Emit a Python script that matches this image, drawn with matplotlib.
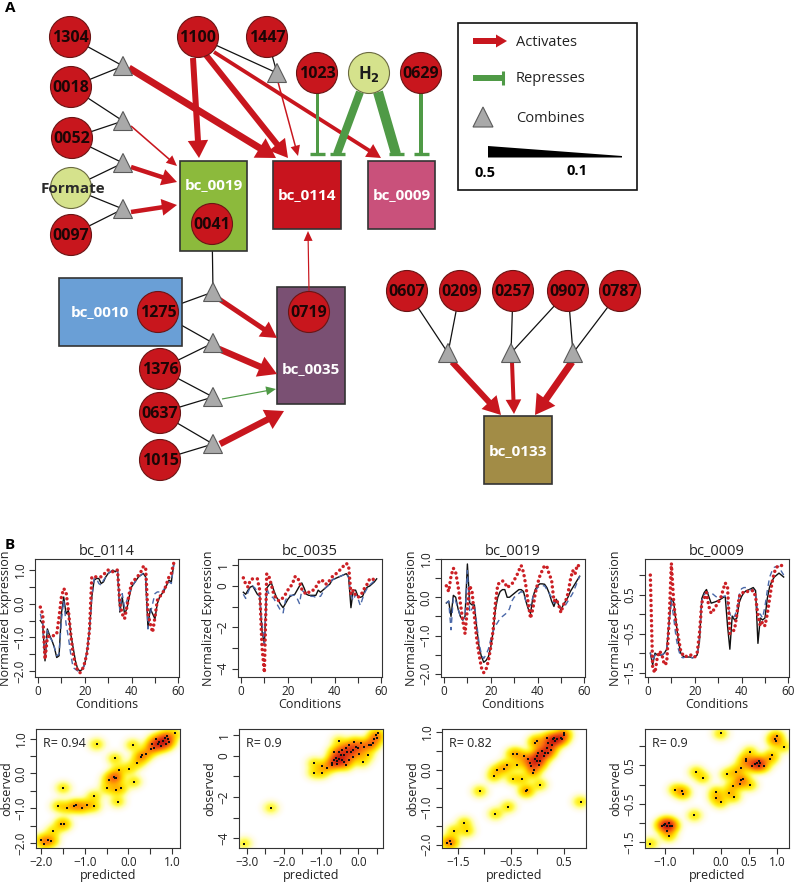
import numpy as np
import matplotlib
matplotlib.use('Agg')
import matplotlib.pyplot as plt
from matplotlib.patches import Circle, Rectangle, Polygon, FancyArrow
from matplotlib.colors import LinearSegmentedColormap

plt.rcParams['font.family'] = ['Open Sans', 'DejaVu Sans']
plt.rcParams['mathtext.fontset'] = 'dejavusans'

# ---------------- data : panel B line plots ----------------
conditions = np.arange(1, 59)
genes = ['bc_0114', 'bc_0035', 'bc_0019', 'bc_0009']

obs_0114 = [-0.5, -0.6, -1.7, -0.75, -0.95, -1.1, -1.3, -1.6, -1.55, -0.3,
            0.2, -0.3, -0.2, -0.9, -1.3, -1.7, -1.95, -2.0, -1.95, -1.8,
            -1.4, -0.8, 0.2, 0.7, 0.75, 0.75, 0.6, 0.65, 0.8, 0.9,
            0.95, 1.0, 0.95, 1.0, -0.25, 0.2, -0.3, -0.15, 0.2, 0.5,
            0.6, 0.7, 0.8, 0.85, 0.9, 0.8, -0.7, -0.15, -0.3, -0.45,
            0.0, 0.2, 0.3, 0.4, 0.55, 0.7, 0.65, 1.15]
fit_0114 = [-0.3, -0.6, -1.6, -0.8, -1.0, -1.1, -1.3, -1.55, -1.5, -0.5,
            0.1, -0.6, -1.0, -1.5, -1.9, -1.95, -2.0, -2.0, -1.95, -1.8,
            -1.4, -0.8, 0.2, 0.75, 0.75, 0.6, 0.55, 0.7, 0.8, 0.9,
            0.95, 1.0, 0.95, 1.0, -0.2, 0.3, -0.1, 0.1, 0.3, 0.5,
            0.6, 0.7, 0.8, 0.85, 0.9, 0.8, -0.75, -0.3, 0.0, 0.3,
            0.35, 0.35, 0.35, 0.45, 0.55, 0.65, 0.6, 1.15]
pred_0114 = [-0.1, -0.3, -1.65, -1.0, -0.95, -0.95, -0.95, -0.9, -0.4, 0.2,
             0.45, 0.35, -0.2, -0.9, -1.5, -1.8, -2.0, -2.05, -1.95, -1.75,
             -1.45, -0.8, 0.8, 0.8, 0.8, 0.8, 0.8, 0.85, 0.95, 1.0,
             1.0, 0.95, 1.0, 1.0, 0.0, -0.3, -0.45, -0.1, 0.3, 0.6,
             0.7, 0.75, 0.85, 0.95, 1.1, 1.1, -0.3, -0.6, -0.85, -0.4,
             0.1, 0.2, 0.3, 0.4, 0.6, 0.8, 0.9, 1.2]

obs_0035 = [-0.3, -0.4, -0.2, -0.05, 0.0, -0.2, -0.4, -0.5, -2.2, -2.8,
            -0.1, 0.05, 0.15, -0.2, -0.5, -0.7, -0.9, -1.05, -0.85, -0.65,
            -0.5, -0.45, -0.4, -0.2, 0.0, 0.15, -0.1, -0.4, -0.45, -0.45,
            -0.45, -0.45, -0.2, -0.3, -0.2, -0.1, 0.0, 0.1, 0.3, 0.35,
            0.4, 0.45, 0.5, 0.55, 0.6, 0.45, -1.05, -0.2, -0.2, -0.5,
            -0.55, -0.5, -0.2, -0.05, 0.0, 0.1, 0.2, 0.35]
fit_0035 = [-0.4, -0.6, -0.3, -0.05, 0.0, -0.1, -0.3, -0.5, -1.8, -2.8,
            -0.1, -0.4, -0.5, -0.6, -0.8, -1.0, -1.2, -1.3, -0.7, -0.5,
            -0.45, -0.45, -0.45, -0.6, -0.85, -0.2, -0.3, -0.4, -0.45, -0.5,
            -0.5, -0.55, -0.5, -0.5, -0.3, -0.1, 0.0, 0.1, 0.3, 0.35,
            0.4, 0.45, 0.5, 0.55, 0.6, 0.4, -0.4, -0.7, -0.4, -0.6,
            -0.95, -0.6, -0.3, -0.1, 0.05, 0.15, 0.25, 0.35]
pred_0035 = [0.4, 0.1, -0.05, 0.3, 0.35, 0.35, 0.35, -0.2, -3.0, -4.2,
             0.6, 0.45, 0.05, -0.4, -0.6, -0.7, -0.7, -0.55, -0.4, -0.2,
             -0.05, 0.1, 0.45, 0.45, 0.2, -0.15, -0.3, -0.4, -0.3, -0.2,
             -0.2, -0.05, 0.15, 0.3, 0.25, 0.1, 0.1, 0.3, 0.45, 0.5,
             0.65, 0.75, 0.85, 1.0, 1.1, 1.0, -0.4, -0.2, -0.45, -0.55,
             -0.45, -0.3, -0.05, 0.1, 0.35, 0.3, 0.35, 0.45]

obs_0019 = [-0.15, -0.1, -0.5, 0.05, 0.0, -0.3, -0.5, -0.6, -0.5, 0.87,
            -0.15, -0.2, -0.2, -0.8, -1.3, -1.55, -1.7, -1.65, -1.55, -1.3,
            -0.9, -0.3, 0.0, 0.15, 0.2, 0.2, 0.0, 0.0, 0.05, 0.1,
            0.15, 0.2, 0.2, 0.15, -0.1, -0.3, -0.42, 0.0, 0.2, 0.3,
            0.35, 0.35, 0.34, 0.25, 0.1, -0.1, -0.24, -0.05, -0.2, -0.33,
            -0.2, -0.1, 0.0, 0.15, 0.25, 0.35, 0.45, 0.55]
fit_0019 = [-0.15, -0.1, -0.85, 0.0, -0.1, -0.3, -0.5, -0.6, -0.5, 0.7,
            -0.4, -0.3, -0.2, -0.7, -1.2, -1.5, -1.6, -1.5, -1.35, -1.1,
            -0.9, -0.75, -0.65, -0.55, -0.5, -0.45, -0.4, -0.3, -0.1, 0.0,
            0.05, 0.1, 0.15, 0.1, -0.1, -0.25, -0.2, 0.0, 0.15, 0.25,
            0.3, 0.3, 0.3, 0.2, 0.1, 0.0, -0.15, -0.1, -0.2, -0.3,
            -0.25, -0.2, -0.1, 0.0, 0.1, 0.25, 0.4, 0.55]
pred_0019 = [0.3, 0.15, 0.55, 0.76, 0.65, 0.3, -0.15, -0.6, -0.95, -0.3,
             0.3, 0.15, -0.5, -1.1, -1.5, -1.84, -1.97, -1.88, -1.66, -1.3,
             -0.86, -0.15, 0.34, 0.38, 0.43, 0.38, 0.25, 0.3, 0.34, 0.45,
             0.55, 0.7, 0.83, 0.65, 0.3, -0.15, -0.55, -0.3, 0.1, 0.35,
             0.56, 0.7, 0.83, 0.8, 0.6, 0.45, -0.1, -0.05, -0.2, -0.4,
             -0.2, -0.1, 0.1, 0.45, 0.7, 0.6, 0.85, 0.8]

obs_0009 = [-1.0, -1.3, -1.0, -1.05, -1.05, -1.05, -1.0, -0.9, -0.2, 0.4,
            0.3, -0.2, -0.7, -1.0, -1.08, -1.1, -1.1, -1.1, -1.12, -1.1,
            -1.05, -0.7, 0.4, 0.55, 0.63, 0.45, 0.28, 0.3, 0.32, 0.35,
            0.38, 0.42, 0.46, -0.3, -0.9, -0.05, -0.15, -0.1, 0.3, 0.45,
            0.55, 0.6, 0.62, 0.65, 0.68, 0.6, -0.75, -0.1, -0.15, -0.1,
            0.4, 0.7, 0.85, 0.95, 1.0, 1.05, 1.0, 0.95]
fit_0009 = [-1.0, -1.2, -1.05, -1.05, -1.05, -1.05, -1.0, -0.9, -0.2, 0.35,
            -0.1, -0.6, -0.9, -1.1, -1.12, -1.1, -1.1, -1.1, -1.12, -1.1,
            -1.05, -0.6, 0.35, 0.5, 0.55, 0.55, 0.55, 0.5, 0.45, 0.42,
            0.42, 0.45, 0.46, 0.3, 0.0, -0.1, -0.05, 0.1, 0.5, 0.65,
            0.68, 0.68, 0.65, 0.62, 0.62, 0.5, 0.0, 0.0, -0.1, 0.2,
            0.6, 0.95, 1.1, 1.2, 1.22, 1.22, 1.1, 1.0]
pred_0009 = [1.0, -1.4, -1.5, -1.1, -0.95, -1.05, -1.3, -1.25, -0.2, 1.3,
             0.3, -0.25, -0.6, -0.95, -1.05, -1.1, -1.05, -1.05, -1.05, -1.1,
             -1.0, -0.5, 0.3, 0.4, 0.55, 0.2, 0.02, 0.1, 0.2, 0.3,
             0.4, 0.6, 0.8, 0.7, -0.5, -0.45, -0.4, 0.0, 0.45, 0.55,
             0.55, 0.55, 0.6, 0.6, 0.6, 0.45, -0.05, -0.3, -0.2, -0.3,
             0.0, 0.4, 0.8, 1.07, 1.2, 1.25, 1.25, 1.2]

# ---------------- data : panel B scatter plots ----------------
sc_pred_0114 = [1.06, 0.63, 0.67, 0.71, 0.75, 0.79, 0.83, 0.85, 0.88, 0.90, 0.92, 0.59, 0.55, 0.51,
                -0.73, 0.10, 0.41, 0.31, 0.28, 0.20, 0.02, -0.31, -0.22, -0.34, -0.30, -0.28, -0.45, 0.13,
                -0.49, -0.29, -0.17, -0.25, -1.50, -1.61, -1.42, -1.24, -1.20, -1.06, -0.96, -0.79, -0.79,
                -1.54, -1.48, -1.73, -2.00, -1.93, -1.85, -1.77]
sc_obs_0114 = [1.15, 0.98, 0.84, 0.89, 0.79, 0.93, 1.03, 0.84, 1.08, 0.98, 0.89, 0.74, 0.84, 0.70,
               0.84, 0.82, 0.56, 0.52, 0.46, 0.30, 0.14, 0.43, 0.10, -0.09, -0.12, -0.14, -0.18, -0.24,
               -0.42, -0.47, -0.42, -0.81, -0.42, -0.94, -0.99, -0.95, -0.92, -0.99, -0.90, -0.66, -0.95,
               -1.46, -1.47, -1.67, -1.92, -2.02, -1.92, -1.95]

sc_pred_0035 = [-3.06, -2.35, -1.19, -1.19, -0.97, -0.98, -0.83,
                -0.70, -0.65, -0.60, -0.56, -0.52, -0.47, -0.43, -0.38, -0.33, -0.29,
                -0.25, -0.20, -0.15, -0.11, -0.06, -0.02, 0.03, 0.07, 0.12, 0.16,
                0.25, 0.30, 0.34, 0.39, 0.48, 0.52, 0.50, 0.43, -0.56, -0.52,
                -0.43, -0.38, -0.33, -0.70, -0.65, -0.52, -0.25, -0.15]
sc_obs_0035 = [-4.26, -2.53, -0.34, -0.83, -0.83, -0.50, -0.57,
               -0.45, -0.20, -0.10, -0.38, 0.72, 0.03, 0.28, -0.29, 0.36, 0.20,
               0.52, 0.20, -0.05, 0.68, 0.44, 0.36, 0.11, 0.60, -0.29, 0.44,
               0.03, 0.52, 0.52, 0.60, 1.00, 1.09, 0.85, 0.82, -0.26, -0.16,
               -0.21, 0.03, -0.46, -0.33, 0.20, 0.20, -0.21, 0.28]

sc_pred_0019 = [-1.70, -1.63, -1.65, -1.58, -1.38, -1.33, -1.09, -0.79, -0.55, -0.82,
                -0.77, -0.63, -0.58, -0.46, -0.46, -0.39, -0.38, -0.29, -0.21, -0.20,
                -0.25, -0.17, -0.14, -0.11, -0.07, -0.08, -0.04, -0.01, 0.00, 0.02,
                0.04, 0.05, 0.09, 0.12, 0.15, 0.18, 0.21, 0.25, 0.28, 0.30,
                0.32, 0.34, 0.37, 0.44, 0.47, 0.50, 0.18, 0.21, 0.05, -0.04,
                -0.01, 0.51, 0.82]
sc_obs_0019 = [-1.96, -1.97, -1.90, -1.64, -1.42, -1.64, -0.58, -1.18, -0.99, -0.18,
               -0.02, 0.02, 0.12, -0.24, 0.42, 0.42, 0.13, -0.25, -0.58, -0.55,
               0.35, 0.27, 0.18, 0.09, 0.00, -0.09, 0.27, 0.22, 0.35, 0.44,
               0.13, 0.22, 0.49, 0.35, 0.44, 0.58, 0.44, 0.53, 0.66, 0.80,
               0.84, 0.75, 0.81, 0.84, 0.80, 0.93, 0.84, 0.71, -0.40, 0.71,
               0.77, 0.96, -0.86]

sc_pred_0009 = [-1.27, -1.06, -1.03, -1.00, -0.97, -0.94, -0.91, -0.88, -0.97, -0.94,
                -0.82, -0.70, -0.68, -0.48, -0.45, -0.33, -0.09, -0.09, -0.01, -0.01,
                0.11, 0.14, 0.21, 0.23, 0.26, 0.33, 0.36, 0.39, 0.35, 0.44,
                0.45, 0.52, 0.52, 0.55, 0.61, 0.64, 0.67, 0.70, 0.68, 0.76,
                0.88, 0.91, 0.96, 1.00, 0.98, 1.12]
sc_obs_0009 = [-1.53, -1.08, -1.04, -1.01, -1.07, -1.00, -1.08, -1.07, -1.20, -1.34,
               -0.13, -0.17, -0.23, -0.80, 0.33, 0.18, -0.19, -0.34, 1.33, -0.46,
               0.27, -0.21, -0.04, -0.32, 0.33, 0.02, 0.12, 0.15, 0.44, 0.66,
               0.61, 0.85, -0.01, 0.48, 0.53, 0.57, 0.48, 0.57, 0.61, 0.48,
               0.67, 0.77, 1.18, 1.27, 1.13, 0.99]

r_values = ['0.94', '0.9', '0.82', '0.9']

# tick specs (ticks, labelled ticks)
line_yticks = [(np.arange(-2.0, 1.01, 0.5), [-2.0, -1.0, 0.0, 1.0], '%.1f'),
               (np.arange(-4, 1.01, 1), [-4, -2, 0, 1], '%d'),
               (np.arange(-2.0, 1.01, 0.5), [-2.0, -1.0, 0.0, 1.0], '%.1f'),
               (np.arange(-1.5, 1.01, 0.5), [-1.5, -0.5, 0.5], '%.1f')]
sc_xticks = [(np.arange(-2.0, 1.01, 0.5), [-2.0, -1.0, 0.0, 1.0], '%.1f'),
             (np.arange(-3.0, 0.51, 0.5), [-3.0, -2.0, -1.0, 0.0], '%.1f'),
             (np.arange(-1.5, 0.51, 0.5), [-1.5, -0.5, 0.5], '%.1f'),
             (np.arange(-1.0, 1.01, 0.5), [-1.0, 0.0, 0.5, 1.0], '%.1f')]
sc_yticks = [(np.arange(-2.0, 1.01, 0.5), [-2.0, -1.0, 0.0, 1.0], '%.1f'),
             (np.arange(-4, 1.01, 1), [-4, -2, 0, 1], '%d'),
             (np.arange(-2.0, 1.01, 0.5), [-2.0, -1.0, 0.0, 1.0], '%.1f'),
             (np.arange(-1.5, 1.01, 0.5), [-1.5, -0.5, 0.5], '%.1f')]

# ---------------- figure ----------------
W, H = 795, 885
fig = plt.figure(figsize=(W / 100, H / 100), dpi=100)

RED = '#c8161e'
GREEN = '#4f9a46'
NODE = '#c8161d'
LIGHT = '#d5e28c'

axN = fig.add_axes([0, 1 - 545 / H, 1, 545 / H])
axN.set_xlim(0, 795)
axN.set_ylim(545, 0)
axN.axis('off')


def node(x, y, label, face=NODE, r=20.5, fs=11.5, color='#1c0606'):
    axN.add_patch(Circle((x, y), r, fc=face, ec='#6a1515', lw=0.8, zorder=5))
    axN.text(x, y + 1, label, ha='center', va='center', fontsize=fs,
             fontweight='bold', color=color, zorder=6)


def tri(x, y, w=19, h=19):
    axN.add_patch(Polygon([(x, y - h / 2), (x - w / 2, y + h / 2), (x + w / 2, y + h / 2)],
                          closed=True, fc='#a9a9a9', ec='#5a5a5a', lw=0.8, zorder=5))


def box(x0, y0, x1, y1, face, label, lx=None, ly=None):
    axN.add_patch(Rectangle((x0, y0), x1 - x0, y1 - y0, fc=face, ec='#333333', lw=1.2, zorder=2))
    if lx is None:
        lx = (x0 + x1) / 2
    if ly is None:
        ly = (y0 + y1) / 2
    axN.text(lx, ly, label, ha='center', va='center', fontsize=11,
             fontweight='bold', color='white', zorder=6)


def link(a, b):
    axN.plot([a[0], b[0]], [a[1], b[1]], color='#111111', lw=0.9, zorder=1)


def arrow(p0, p1, w, color=RED):
    x0, y0 = p0
    dx, dy = p1[0] - x0, p1[1] - y0
    hw = 2.4 * w + 6
    hl = 1.6 * w + 8
    axN.add_patch(FancyArrow(x0, y0, dx, dy, width=w, head_width=hw, head_length=hl,
                             length_includes_head=True, fc=color, ec='none', zorder=3))


def repress(p0, p1, w, bar=15):
    axN.plot([p0[0], p1[0]], [p0[1], p1[1]], color=GREEN, lw=w * 0.72,
             solid_capstyle='butt', zorder=3)
    axN.plot([p1[0] - bar / 2, p1[0] + bar / 2], [p1[1], p1[1]], color=GREEN,
             lw=2.4, solid_capstyle='butt', zorder=3)


# node coordinates
P = {
    '1304': (70, 37), '0018': (71, 87), '0052': (72, 138), 'Formate': (71, 188),
    '0097': (71, 235), '1100': (198, 37), '1447': (267, 37), '1023': (317, 73),
    'H2': (369, 73), '0629': (421, 73), '0041': (212, 224), '1275': (158, 312),
    '0719': (309, 312), '1376': (160, 369), '0637': (160, 413), '1015': (160, 460),
    '0607': (407, 291), '0209': (460, 291), '0257': (513, 291), '0907': (568, 291),
    '0787': (620, 291),
}
T = {
    't1': (123, 66), 't2': (123, 121), 't3': (123, 163), 't4': (123, 209), 't5': (277, 73),
    't6': (213, 292), 't7': (213, 343), 't8': (213, 397), 't9': (213, 444),
    'tA': (448, 353), 'tB': (511, 353), 'tC': (573, 353),
}

# boxes
box(180, 161, 247, 251, '#8cba3c', 'bc_0019', ly=185)
box(273, 161, 341, 229, '#c8141e', 'bc_0114')
box(368, 161, 435, 229, '#c9517b', 'bc_0009')
box(59, 278, 182, 346, '#6a9fd6', 'bc_0010', lx=100)
box(277, 287, 345, 404, '#7a5073', 'bc_0035', ly=369)
box(484, 416, 552, 484, '#a28c46', 'bc_0133', ly=451)

# connector links
for a, t in [('1304', 't1'), ('0018', 't1'), ('0018', 't2'), ('0052', 't2'),
             ('0052', 't3'), ('Formate', 't3'), ('Formate', 't4'), ('0097', 't4'),
             ('1100', 't5'), ('1447', 't5'), ('0041', 't6'), ('1275', 't6'),
             ('1275', 't7'), ('1376', 't7'), ('1376', 't8'), ('0637', 't8'),
             ('0637', 't9'), ('1015', 't9'), ('0607', 'tA'), ('0209', 'tA'),
             ('0257', 'tB'), ('0907', 'tB'), ('0907', 'tC'), ('0787', 'tC')]:
    link(P[a], T[t])

# activation arrows
arrow((129, 68), (276, 158), 7)
arrow((131, 126), (177, 166), 1.6)
arrow((131, 167), (177, 182), 4.5)
arrow((131, 212), (177, 205), 4.5)
arrow((193, 58), (199, 158), 6)
arrow((206, 55), (288, 158), 6)
arrow((214, 52), (381, 158), 3.8)
arrow((278, 82), (298, 156), 1.5)
arrow((309, 291), (308, 231), 1.2)
arrow((219, 299), (277, 338), 5)
arrow((219, 349), (277, 374), 6.5)
arrow((222, 399), (276, 389), 1.2, color=GREEN)
arrow((220, 444), (284, 411), 6.5)
arrow((452, 362), (501, 415), 6)
arrow((512, 362), (514, 414), 4)
arrow((572, 362), (535, 415), 7)

# repression edges
repress((317, 93), (317, 154), 3)
repress((360, 92), (337, 154), 8)
repress((378, 92), (396, 154), 10)
repress((421, 93), (421, 154), 4)

# triangles
for t in T.values():
    tri(*t)

# nodes
for k, (x, y) in P.items():
    if k == 'Formate':
        axN.add_patch(Circle((x, y), 20.5, fc=LIGHT, ec='#6a6a40', lw=0.8, zorder=5))
        axN.text(x + 2, y + 1, 'Formate', ha='center', va='center', fontsize=11,
                 fontweight='bold', color='#2a2a2a', zorder=6)
    elif k == 'H2':
        axN.add_patch(Circle((x, y), 20.5, fc=LIGHT, ec='#6a6a40', lw=0.8, zorder=5))
        axN.text(x, y + 1, r'H$_\mathbf{2}$', ha='center', va='center', fontsize=12,
                 fontweight='bold', color='#1c1c1c', zorder=6)
    else:
        node(x, y, k)

# legend
axN.add_patch(Rectangle((458, 23), 179, 167, fc='white', ec='#111111', lw=1.2, zorder=2))
axN.add_patch(FancyArrow(473, 41, 34, 0, width=6, head_width=13, head_length=11,
                         length_includes_head=True, fc=RED, ec='none', zorder=3))
axN.text(516, 42, 'Activates', ha='left', va='center', fontsize=10.5, color='#222222')
axN.plot([473, 503], [78, 78], color=GREEN, lw=6 * 0.72, solid_capstyle='butt')
axN.plot([503, 503], [71, 85], color=GREEN, lw=2.2, solid_capstyle='butt')
axN.text(516, 79, 'Represses', ha='left', va='center', fontsize=10.5, color='#222222')
axN.add_patch(Polygon([(483, 107), (473, 127), (493, 127)], closed=True,
                      fc='#a9a9a9', ec='#5a5a5a', lw=0.8, zorder=3))
axN.text(516, 118, 'Combines', ha='left', va='center', fontsize=10.5, color='#222222')
axN.add_patch(Polygon([(488, 146), (622, 156), (622, 157.5), (488, 157.5)], closed=True,
                      fc='black', ec='none', zorder=3))
axN.text(485, 173, '0.5', ha='center', va='center', fontsize=10.5, fontweight='bold')
axN.text(577, 171, '0.1', ha='center', va='center', fontsize=10.5, fontweight='bold')

# panel letters
axN.text(10, 8, 'A', ha='center', va='center', fontsize=11, fontweight='bold')
fig.text(10 / W, 1 - 545 / H, 'B', ha='center', va='center', fontsize=11, fontweight='bold')

# ---------------- panel B ----------------
heat = LinearSegmentedColormap.from_list('heat', [
    (0.0, '#ffffff'), (0.22, '#ffffff'), (0.38, '#fffce8'), (0.5, '#ffffa0'),
    (0.6, '#fff530'), (0.68, '#ffe000'), (0.77, '#ffa800'), (0.86, '#f86a10'),
    (0.94, '#e03a12'), (1.0, '#c41a10')])


def rlim(vals):
    lo, hi = min(vals), max(vals)
    r = hi - lo
    return lo - 0.04 * r, hi + 0.04 * r


def rstyle(ax, yt, xt=None):
    for s in ax.spines.values():
        s.set_linewidth(0.8)
        s.set_color('#333333')
    ax.tick_params(direction='out', length=4, width=0.8, labelsize=8.5, pad=2,
                   colors='#333333', labelcolor='#222222')
    ticks, lab, fmt = yt
    ax.set_yticks(ticks)
    ax.set_yticklabels([(fmt % v).replace('-', '\u2212') if any(abs(v - l) < 1e-9 for l in lab) else ''
                        for v in ticks], rotation=90, va='center')
    if xt is not None:
        ticks, lab, fmt = xt
        ax.set_xticks(ticks)
        ax.set_xticklabels([(fmt % v).replace('-', '\u2212') if any(abs(v - l) < 1e-9 for l in lab) else ''
                            for v in ticks])


line_data = [(obs_0114, fit_0114, pred_0114), (obs_0035, fit_0035, pred_0035),
             (obs_0019, fit_0019, pred_0019), (obs_0009, fit_0009, pred_0009)]
sc_data = [(sc_pred_0114, sc_obs_0114), (sc_pred_0035, sc_obs_0035),
           (sc_pred_0019, sc_obs_0019), (sc_pred_0009, sc_obs_0009)]

line_lefts = [35, 238, 441, 645]
sc_lefts = [36, 239, 442, 645]

for i in range(4):
    ob, ft, pr = line_data[i]
    ax = fig.add_axes([line_lefts[i] / W, 1 - 677 / H, 144 / W, 118 / H])
    ax.plot(conditions, ob, color='#111111', lw=1.0, zorder=2)
    ax.plot(conditions, ft, color='#4a68a8', lw=1.0, ls=(0, (4, 3)), zorder=3)
    ax.plot(conditions, pr, color='#cc2025', lw=2.5, ls=(0, (0.01, 1.45)),
            dash_capstyle='round', zorder=4)
    ax.set_xlim(1 - 0.04 * 57, 58 + 0.04 * 57)
    ax.set_ylim(*rlim(list(ob) + list(ft) + list(pr)))
    rstyle(ax, line_yticks[i], (np.arange(0, 61, 10), [0, 20, 40, 60], '%d'))
    ax.set_title(genes[i], fontsize=10.5, pad=3, color='#222222')
    ax.set_xlabel('Conditions', fontsize=9, labelpad=0, color='#222222')
    ax.set_ylabel('Normalized Expression', fontsize=9, labelpad=1, color='#222222')

for i in range(4):
    px, py = sc_data[i]
    ax = fig.add_axes([sc_lefts[i] / W, 1 - 848 / H, 144 / W, 119 / H])
    xl = rlim(px)
    yl = rlim(py)
    gx = np.linspace(xl[0], xl[1], 260)
    gy = np.linspace(yl[0], yl[1], 220)
    X, Y = np.meshgrid(gx, gy)
    sx = 0.036 * (xl[1] - xl[0])
    sy = 0.036 * (yl[1] - yl[0])
    D = np.zeros_like(X)
    for x, y in zip(px, py):
        D += np.exp(-((X - x) ** 2 / (2 * sx ** 2) + (Y - y) ** 2 / (2 * sy ** 2)))
    D = (D / D.max()) ** 0.25
    ax.imshow(D, extent=(xl[0], xl[1], yl[0], yl[1]), origin='lower', cmap=heat,
              aspect='auto', interpolation='bilinear', vmin=0, vmax=1, zorder=0)
    ax.scatter(px, py, s=3.5, marker='s', color='#111111', lw=0, zorder=3)
    ax.set_xlim(*xl)
    ax.set_ylim(*yl)
    rstyle(ax, sc_yticks[i], sc_xticks[i])
    ax.text(0.05, 0.88, 'R= ' + r_values[i], transform=ax.transAxes, fontsize=9,
            ha='left', va='center', color='#222222', zorder=5)
    ax.set_xlabel('predicted', fontsize=9, labelpad=0, color='#222222')
    ax.set_ylabel('observed', fontsize=9, labelpad=1, color='#222222')

fig.savefig('out.png', dpi=100)
